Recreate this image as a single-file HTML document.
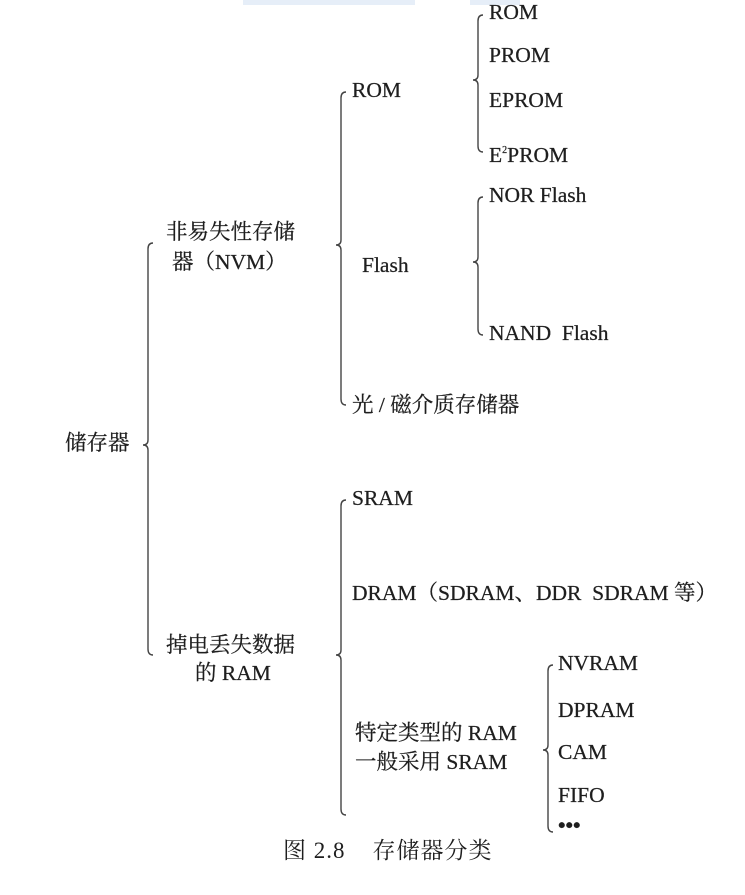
<!DOCTYPE html>
<html><head><meta charset="utf-8"><style>
body{margin:0;width:745px;height:895px;background:#fff;position:relative;overflow:hidden;font-family:"Liberation Serif","Noto Serif CJK SC",serif;color:#1e1e1e}
.t{position:absolute;font-size:21.5px;line-height:22px;white-space:nowrap;-webkit-text-stroke:0.25px #1e1e1e}
</style></head><body>
<div style="position:absolute;left:243px;top:0;width:172px;height:5px;background:#e6eef8"></div>
<div style="position:absolute;left:470px;top:0;width:50px;height:5px;background:#e6eef8"></div>
<svg width="745" height="895" style="position:absolute;left:0;top:0" fill="none" stroke="#444" stroke-width="1.4">
<path d="M153,243 Q148,243 148,249 L148,440 Q148,445 143,445 Q148,445 148,450 L148,649 Q148,655 153,655"/>
<path d="M346,92 Q341,92 341,98 L341,240 Q341,245 336,245 Q341,245 341,250 L341,399 Q341,405 346,405"/>
<path d="M483,15 Q478,15 478,21 L478,75 Q478,80 473,80 Q478,80 478,85 L478,146 Q478,152 483,152"/>
<path d="M483,197 Q478,197 478,203 L478,257 Q478,262 473,262 Q478,262 478,267 L478,329 Q478,335 483,335"/>
<path d="M346,500 Q341,500 341,506 L341,650 Q341,655 336,655 Q341,655 341,660 L341,809 Q341,815 346,815"/>
<path d="M553,665 Q548,665 548,671 L548,745 Q548,750 543,750 Q548,750 548,755 L548,826 Q548,832 553,832"/>
</svg>
<div class="t" style="left:65px;top:432px">储存器</div>
<div class="t" style="left:166px;top:221px">非易失性存储</div>
<div class="t" style="left:172px;top:251px">器（NVM）</div>
<div class="t" style="left:352px;top:79px">ROM</div>
<div class="t" style="left:362px;top:254px">Flash</div>
<div class="t" style="left:352px;top:394px">光 / 磁介质存储器</div>
<div class="t" style="left:489px;top:1px">ROM</div>
<div class="t" style="left:489px;top:44px">PROM</div>
<div class="t" style="left:489px;top:89px">EPROM</div>
<div class="t" style="left:489px;top:144px">E<sup style="font-size:10px;vertical-align:9px;line-height:0">2</sup>PROM</div>
<div class="t" style="left:489px;top:184px">NOR Flash</div>
<div class="t" style="left:489px;top:322px">NAND&nbsp; Flash</div>
<div class="t" style="left:166px;top:634px">掉电丢失数据</div>
<div class="t" style="left:195px;top:662px">的 RAM</div>
<div class="t" style="left:352px;top:487px">SRAM</div>
<div class="t" style="left:352px;top:582px">DRAM（SDRAM、DDR&nbsp; SDRAM 等）</div>
<div class="t" style="left:355px;top:722px">特定类型的 RAM</div>
<div class="t" style="left:355px;top:751px">一般采用 SRAM</div>
<div class="t" style="left:558px;top:652px">NVRAM</div>
<div class="t" style="left:558px;top:699px">DPRAM</div>
<div class="t" style="left:558px;top:741px">CAM</div>
<div class="t" style="left:558px;top:784px">FIFO</div>
<div class="t" style="left:558px;top:814px;font-weight:bold">•••</div>
<div class="t" style="left:283px;top:840px;font-size:23px;letter-spacing:1px;-webkit-text-stroke:0">图 2.8&nbsp;&nbsp;&nbsp; 存储器分类</div>
</body></html>
